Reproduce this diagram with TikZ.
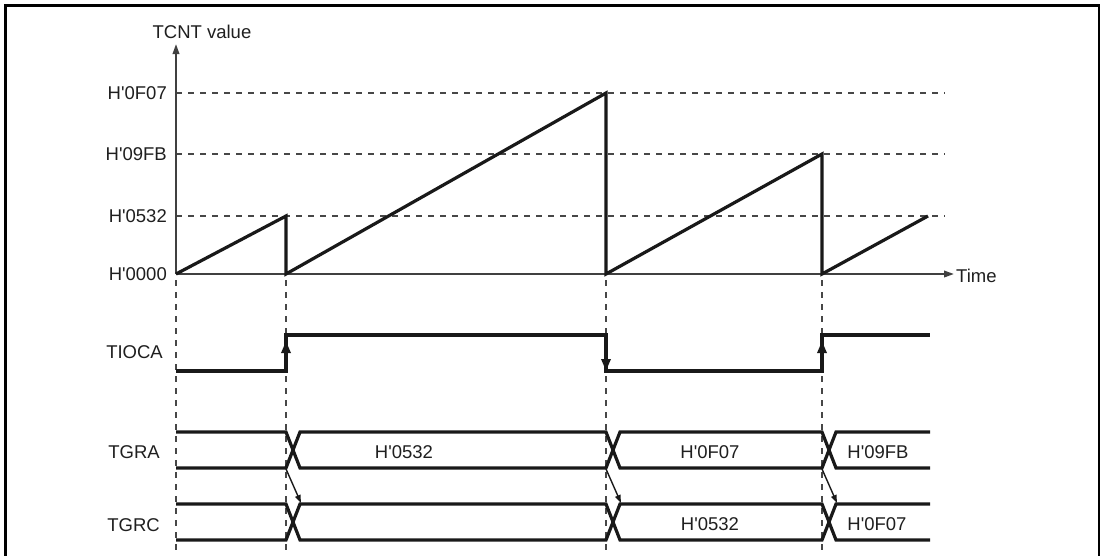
\documentclass[tikz,border=0pt]{standalone}
\usepackage{fontspec}
\newfontfamily\lsans{Liberation Sans}
\usetikzlibrary{arrows.meta}
\begin{document}
\begin{tikzpicture}[x=1pt,y=-1pt,
  lbl/.style={font=\lsans\fontsize{18.5}{22}\selectfont, text=black!88, inner sep=0pt},
  frame/.style={line width=2.8pt, black},
  wave/.style={line width=3.2pt, black!90, line join=miter},
  axisline/.style={line width=2pt, black!75},
  guide/.style={line width=1.2pt, black!72, dash pattern=on 6pt off 6pt},
  edgearrow/.style={line width=3.2pt, black!90, -{Triangle[length=12pt,width=9pt]}},
  axisarrow/.style={axisline, -{Triangle[length=10pt,width=6.5pt]}},
  thinarrow/.style={line width=1.4pt, black!90, -{Triangle[length=8pt,width=5.5pt]}}]
\useasboundingbox (0,0) rectangle (1103,555);
\clip (0,0) rectangle (1103,555);
\fill[white] (0,0) rectangle (1103,555);
\draw[frame] (5.5,5.5) rectangle (1099,640);

% guide lines
\foreach \yy in {93,154,216} \draw[guide] (176,\yy) -- (945,\yy);
\foreach \xx in {176,286,606,822} \draw[guide] (\xx,280) -- (\xx,555);

% axes
\draw[axisarrow] (176,274) -- (176,44);
\draw[axisarrow] (176,274) -- (954,274);
\node[lbl] (tcnt) at (202,32) {TCNT value};
\node[lbl, anchor=west] (time) at (956,276) {Time};

% level labels
\node[lbl, anchor=east] (l0f07) at (167,93) {H'0F07};
\node[lbl, anchor=east] (l09fb) at (167,154) {H'09FB};
\node[lbl, anchor=east] (l0532) at (167,216) {H'0532};
\node[lbl, anchor=east] (l0000) at (167,274) {H'0000};

% sawtooth
\draw[wave] (176,274) -- (286,216) -- (286,274) -- (606,93) -- (606,274)
  -- (822,154) -- (822,274) -- (928,216);

% TIOCA
\node[lbl, anchor=east] (tioca) at (163,352) {TIOCA};
\draw[wave] (176,371) -- (286,371) -- (286,335) -- (606,335) -- (606,371)
  -- (822,371) -- (822,335) -- (930,335);
\draw[edgearrow] (286,371) -- (286,341);
\draw[edgearrow] (606,335) -- (606,371);
\draw[edgearrow] (822,371) -- (822,341);

% TGRA
\node[lbl, anchor=east] (tgra) at (160,452) {TGRA};
\draw[wave] (176,432) -- (286,432) -- (300,468) -- (606,468) -- (620,432)
  -- (822,432) -- (836,468) -- (930,468);
\draw[wave] (176,468) -- (286,468) -- (300,432) -- (606,432) -- (620,468)
  -- (822,468) -- (836,432) -- (930,432);
\node[lbl] (a1) at (404,452) {H'0532};
\node[lbl] (a2) at (710,452) {H'0F07};
\node[lbl] (a3) at (878,452) {H'09FB};

% TGRC
\node[lbl, anchor=east] (tgrc) at (160,525) {TGRC};
\draw[wave] (176,504) -- (286,504) -- (300,540) -- (606,540) -- (620,504)
  -- (822,504) -- (836,540) -- (930,540);
\draw[wave] (176,540) -- (286,540) -- (300,504) -- (606,504) -- (620,540)
  -- (822,540) -- (836,504) -- (930,504);
\node[lbl] (c2) at (710,524) {H'0532};
\node[lbl] (c3) at (877,524) {H'0F07};

% transfer arrows
\draw[thinarrow] (286,469) -- (301,503);
\draw[thinarrow] (606,469) -- (621,503);
\draw[thinarrow] (822,469) -- (837,503);
\end{tikzpicture}
\end{document}
